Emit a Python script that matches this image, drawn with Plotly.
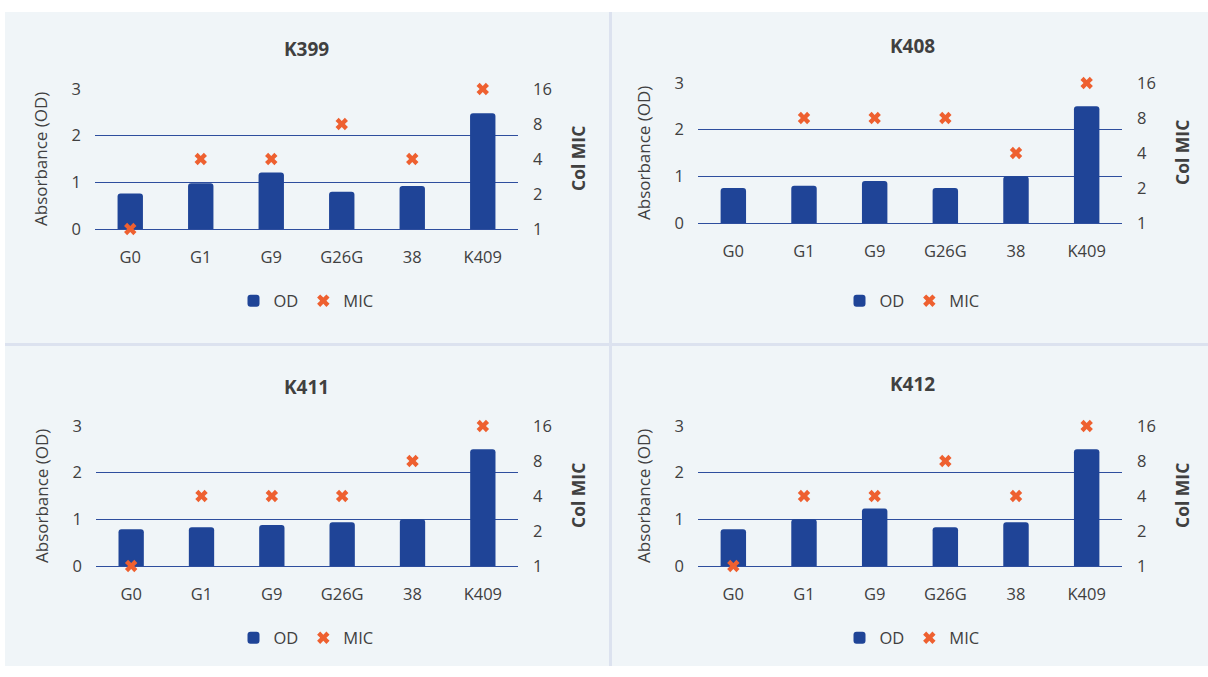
import plotly.graph_objects as go

W, H = 1208, 677

categories = ["G0", "G1", "G9", "G26G", "38", "K409"]
panel_titles = ["K399", "K408", "K411", "K412"]

od_k399 = [0.76, 0.98, 1.21, 0.80, 0.92, 2.48]
od_k408 = [0.75, 0.80, 0.90, 0.75, 1.00, 2.50]
od_k411 = [0.79, 0.83, 0.88, 0.94, 1.00, 2.50]
od_k412 = [0.79, 1.00, 1.23, 0.83, 0.94, 2.50]

mic_k399 = [1, 4, 4, 8, 4, 16]
mic_k408 = [None, 8, 8, 8, 4, 16]
mic_k411 = [1, 4, 4, 4, 8, 16]
mic_k412 = [1, 4, 4, 8, 4, 16]

od_ticks = [0, 1, 2, 3]
mic_ticks = [1, 2, 4, 8, 16]

od_series = [od_k399, od_k408, od_k411, od_k412]
mic_series = [mic_k399, mic_k408, mic_k411, mic_k412]

BAR = "#1F4497"
MARK = "#EE6030"
GRID = "#2E4E9E"
TXT = "#404040"
PANEL = "#F0F5F8"
FONT = "Open Sans"

# target pixel geometry of each plot area: (x0, x1, ytop, ybottom)
areas = [(95, 518, 89, 229), (698, 1122, 83, 223),
         (96, 518, 426, 566), (698, 1122, 426, 566)]
title_pos = [(306, 49), (912, 46), (306, 387), (912, 384)]
legend_y = [301, 301, 638, 638]


def fx(px):
    return px / W


def fy(py):
    # compensate for the vertical placement seen in the rendered screenshot
    ys = (py - 12) / 0.966
    ys = min(max(ys, 0), H)
    return 1 - ys / H


fig = go.Figure()
layout = {}
annotations = []

for i in range(4):
    n = i + 1
    xa = "x" if n == 1 else f"x{n}"
    ya = f"y{2*i+1}" if i > 0 else "y"
    ya2 = f"y{2*i+2}"
    leg = "legend" if n == 1 else f"legend{n}"
    fig.add_trace(go.Bar(x=categories, y=od_series[i], name="OD",
                         marker=dict(color=BAR, line=dict(width=0)),
                         xaxis=xa, yaxis=ya, legend=leg))
    fig.add_trace(go.Scatter(x=categories, y=mic_series[i], name="MIC",
                             mode="markers", cliponaxis=False,
                             marker=dict(symbol="x", size=11, color=MARK,
                                         line=dict(width=0)),
                             xaxis=xa, yaxis=ya2, legend=leg))
    x0, x1, yt, yb = areas[i]
    xkey = "xaxis" if n == 1 else f"xaxis{n}"
    ykey = "yaxis" if i == 0 else f"yaxis{2*i+1}"
    y2key = f"yaxis{2*i+2}"
    yid = ya
    tf = dict(family=FONT, size=16.5, color=TXT)
    layout[xkey] = dict(domain=[fx(x0), fx(x1)], anchor=yid, showgrid=False,
                        showline=False, zeroline=False, ticks="",
                        ticklabelstandoff=16, tickfont=tf)
    layout[ykey] = dict(domain=[fy(yb), fy(yt)], anchor=xa, range=[0, 3],
                        tickvals=od_ticks, showgrid=True, gridcolor=GRID,
                        gridwidth=1, zeroline=True, zerolinecolor=GRID,
                        zerolinewidth=1, showline=False, ticks="",
                        ticklabelstandoff=13, tickfont=tf)
    layout[y2key] = dict(domain=[fy(yb), fy(yt)], anchor=xa, overlaying=yid,
                         side="right", type="log", range=[0, 1.20412],
                         tickvals=mic_ticks, ticktext=[str(v) for v in mic_ticks],
                         showgrid=False, zeroline=False, showline=False,
                         ticks="", ticklabelstandoff=14, tickfont=tf)
    cx_panel = title_pos[i][0]
    layout[leg] = dict(orientation="h", xanchor="center", yanchor="middle",
                       x=fx(cx_panel), y=fy(legend_y[i]), bgcolor="rgba(0,0,0,0)",
                       font=dict(family=FONT, size=16.5, color=TXT),
                       itemwidth=30, tracegroupgap=0)
    annotations.append(dict(text=f"<b>{panel_titles[i]}</b>", x=fx(title_pos[i][0]),
                            y=fy(title_pos[i][1]), xref="paper", yref="paper",
                            showarrow=False, xanchor="center", yanchor="middle",
                            font=dict(family=FONT, size=19, color=TXT)))
    ymid = (yt + yb) / 2
    annotations.append(dict(text="Absorbance (OD)", x=fx(x0 - 55), y=fy(ymid),
                            xref="paper", yref="paper", showarrow=False,
                            textangle=-90, xanchor="center", yanchor="middle",
                            font=dict(family=FONT, size=17, color=TXT)))
    annotations.append(dict(text="<b>Col MIC</b>", x=fx(x1 + 60), y=fy(ymid),
                            xref="paper", yref="paper", showarrow=False,
                            textangle=-90, xanchor="center", yanchor="middle",
                            font=dict(family=FONT, size=17.5, color=TXT)))

shapes = [
    dict(type="rect", xref="paper", yref="paper", x0=fx(5), x1=fx(1210),
         y0=fy(700), y1=fy(6), fillcolor=PANEL, line=dict(width=0),
         layer="below"),
    dict(type="rect", xref="paper", yref="paper", x0=fx(609), x1=fx(612),
         y0=fy(700), y1=fy(6), fillcolor="#DCE2EF", line=dict(width=0),
         layer="below"),
    dict(type="rect", xref="paper", yref="paper", x0=fx(5), x1=fx(1210),
         y0=fy(346), y1=fy(343), fillcolor="#DCE2EF", line=dict(width=0),
         layer="below"),
]

fig.update_layout(width=W, height=H, margin=dict(l=0, r=0, t=0, b=0),
                  paper_bgcolor="white", plot_bgcolor="rgba(0,0,0,0)",
                  barmode="group", bargap=0.64, barcornerradius=3,
                  font=dict(family=FONT, color=TXT),
                  annotations=annotations, shapes=shapes, **layout)

fig.write_html("out.html",
               config={"displayModeBar": False, "responsive": False},
               post_script="document.documentElement.style.margin='0';"
                           "document.documentElement.style.padding='0';"
                           "document.documentElement.style.overflow='hidden';"
                           "document.documentElement.style.background='" + PANEL + "';"
                           "document.body.style.margin='0';"
                           "document.body.style.padding='0';"
                           "document.body.style.overflow='hidden';")
